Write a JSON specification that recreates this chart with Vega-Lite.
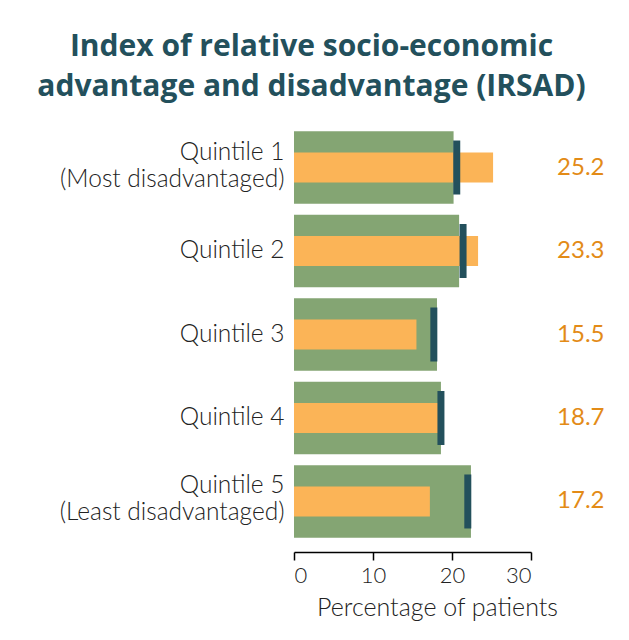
{
  "$schema": "https://vega.github.io/schema/vega-lite/v6.json",
  "autosize": {"type": "none"},
  "width": 237,
  "height": 435,
  "padding": {"left": 294, "top": 117, "right": 98, "bottom": 88},
  "background": "white",
  "title": {
    "text": ["Index of relative socio-economic", "advantage and disadvantage (IRSAD)"],
    "font": "Open Sans",
    "fontSize": 30,
    "fontWeight": "bold",
    "color": "#23505c",
    "anchor": "middle",
    "frame": "group",
    "dx": -101,
    "lineHeight": 40,
    "offset": 15
  },
  "data": {
    "values": [
      {"group": "Quintile 1|(Most disadvantaged)", "range": 20.2, "value": 25.2, "marker": 20.6},
      {"group": "Quintile 2", "range": 20.9, "value": 23.3, "marker": 21.4},
      {"group": "Quintile 3", "range": 18.1, "value": 15.5, "marker": 17.7},
      {"group": "Quintile 4", "range": 18.6, "value": 18.7, "marker": 18.6},
      {"group": "Quintile 5|(Least disadvantaged)", "range": 22.4, "value": 17.2, "marker": 22.0}
    ]
  },
  "encoding": {
    "y": {
      "field": "group",
      "type": "nominal",
      "sort": null,
      "scale": {"paddingInner": 0.13, "paddingOuter": 0.17},
      "axis": {
        "title": null,
        "domain": false,
        "ticks": false,
        "labelPadding": 10,
        "labelFont": "Lato",
        "labelFontWeight": 300,
        "labelFontSize": 24.5,
        "labelColor": "#222222",
        "labelLineHeight": 27,
        "labelLimit": 300,
        "labelOffset": {"expr": "indexof(datum.value, '|') >= 0 ? -15 : 0"},
        "labelExpr": "split(datum.label, '|')"
      }
    }
  },
  "layer": [
    {
      "mark": {"type": "bar", "color": "#84a573"},
      "encoding": {
        "x": {
          "field": "range",
          "type": "quantitative",
          "scale": {"domain": [0, 30], "nice": false},
          "axis": {
            "values": [0, 10, 20, 30],
            "title": "Percentage of patients",
            "grid": false,
            "domainColor": "#000000",
            "domainWidth": 1.5,
            "tickColor": "#000000",
            "tickWidth": 1.5,
            "tickSize": 8,
            "labelFont": "Lato",
            "labelFontWeight": 300,
            "labelFontSize": 22,
            "labelColor": "#222222",
            "labelPadding": 5,
            "titleFont": "Lato",
            "titleFontWeight": 300,
            "titleFontSize": 25,
            "titleColor": "#222222",
            "titlePadding": 9,
            "titleAnchor": "middle",
            "titleX": 143
          }
        }
      }
    },
    {
      "mark": {"type": "bar", "color": "#fbb457", "size": 30},
      "encoding": {"x": {"field": "value", "type": "quantitative"}}
    },
    {
      "mark": {"type": "tick", "color": "#23505c", "size": 54, "thickness": 7, "opacity": 1},
      "encoding": {"x": {"field": "marker", "type": "quantitative"}}
    },
    {
      "mark": {"type": "text", "font": "Lato", "fontWeight": 400, "fontSize": 24, "color": "#e38b17", "align": "center", "baseline": "middle", "clip": false},
      "encoding": {
        "x": {"datum": 36.3, "type": "quantitative"},
        "text": {"field": "value", "type": "quantitative", "format": ".1f"}
      }
    }
  ],
  "config": {"view": {"stroke": null}}
}
